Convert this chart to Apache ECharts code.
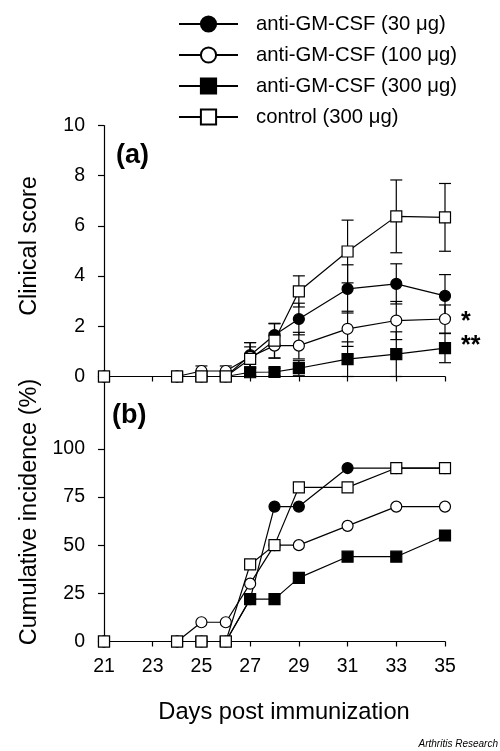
<!DOCTYPE html>
<html>
<head>
<meta charset="utf-8">
<script src="https://cdn.jsdelivr.net/npm/echarts@6/dist/echarts.min.js"></script>
<style>html,body{margin:0;padding:0;background:#fff}#c{width:500px;height:751px}</style>
</head>
<body>
<div id="c"></div>
<script>
// ---- data ----
var days = [21, 24, 25, 26, 27, 28, 29, 31, 33, 35];
var seriesNames = ['anti-GM-CSF (30 μg)', 'anti-GM-CSF (100 μg)', 'anti-GM-CSF (300 μg)', 'control (300 μg)'];
// Panel (a): clinical score (mean) and error (SEM)
var scoreGM30   = [0, 0, 0, 0, 0.85, 1.65, 2.29, 3.49, 3.69, 3.21];
var errGM30     = [0, 0, 0, 0, 0.50, 0.45, 0.63, 0.96, 0.80, 0.85];
var scoreGM100  = [0, 0, 0.22, 0.22, 0.78, 1.23, 1.23, 1.90, 2.23, 2.29];
var errGM100    = [0, 0, 0.20, 0.20, 0.40, 0.50, 0.53, 0.70, 0.76, 0.56];
var scoreGM300  = [0, 0, 0, 0, 0.17, 0.18, 0.33, 0.69, 0.89, 1.13];
var errGM300    = [0, 0, 0, 0, 0.15, 0.15, 0.30, 0.69, 0.89, 0.58];
var scoreCtrl   = [0, 0, 0, 0, 0.70, 1.43, 3.39, 4.98, 6.38, 6.34];
var errCtrl     = [0, 0, 0, 0, 0.65, 0.69, 0.62, 1.25, 1.45, 1.35];
// Panel (b): cumulative incidence (%)
var incGM30  = [0, 0, 0, 0, 22, 70, 70, 90, 90, 90];
var incGM100 = [0, 0, 10, 10, 30, 50, 50, 60, 70, 70];
var incGM300 = [0, 0, 0, 0, 22, 22, 33, 44, 44, 55];
var incCtrl  = [0, 0, 0, 0, 40, 50, 80, 80, 90, 90];
// ticks
var xTicks = [21, 23, 25, 27, 29, 31, 33, 35];
var yTicksA = [0, 2, 4, 6, 8, 10];
var yTicksB = [0, 25, 50, 75, 100];

// ---- styles ----
var FONT = 'Liberation Sans, Arial, sans-serif';
var styles = [
  {symbol: 'circle', fill: '#000'},
  {symbol: 'circle', fill: '#fff'},
  {symbol: 'rect', fill: '#000'},
  {symbol: 'rect', fill: '#fff'}
];
function pairs(ys) { return days.map(function (d, i) { return [d, ys[i]]; }); }
function triples(ys, es) { return days.map(function (d, i) { return [d, ys[i], es[i]]; }); }

var scoresA = [scoreGM30, scoreGM100, scoreGM300, scoreCtrl];
var errsA = [errGM30, errGM100, errGM300, errCtrl];
var incB = [incGM30, incGM100, incGM300, incCtrl];

var series = [];
// error bars for panel (a)
series.push({
  type: 'custom', xAxisIndex: 0, yAxisIndex: 0, z: 1, clip: false, silent: true,
  data: [].concat.apply([], scoresA.map(function (s, k) { return triples(s, errsA[k]); })),
  encode: {x: 0, y: 1},
  renderItem: function (params, api) {
    var x = api.value(0), y = api.value(1), e = api.value(2);
    if (!e) return null;
    var top = api.coord([x, y + e]);
    var bot = api.coord([x, y - e]);
    var hw = 6;
    var st = {stroke: '#000', lineWidth: 1.2, fill: null};
    return {type: 'group', children: [
      {type: 'line', shape: {x1: top[0], y1: top[1], x2: bot[0], y2: bot[1]}, style: st},
      {type: 'line', shape: {x1: top[0] - hw, y1: top[1], x2: top[0] + hw, y2: top[1]}, style: st},
      {type: 'line', shape: {x1: bot[0] - hw, y1: bot[1], x2: bot[0] + hw, y2: bot[1]}, style: st}
    ]};
  }
});
for (var k = 0; k < 4; k++) {
  var base = {
    name: seriesNames[k], type: 'line', symbol: styles[k].symbol, symbolSize: 11,
    showAllSymbol: true, clip: false, z: 3 + k,
    lineStyle: {color: '#000', width: 1.2},
    itemStyle: {color: styles[k].fill, borderColor: '#000', borderWidth: 1.2, opacity: 1},
    emphasis: {disabled: true}, animation: false
  };
  series.push(Object.assign({}, base, {xAxisIndex: 0, yAxisIndex: 0, data: pairs(scoresA[k])}));
  series.push(Object.assign({}, base, {xAxisIndex: 1, yAxisIndex: 1, data: pairs(incB[k])}));
}

var axisLine = {show: true, lineStyle: {color: '#000', width: 1.2}};
var tickFont = 19.5;
var option = {
  backgroundColor: '#fff',
  animation: false,
  textStyle: {fontFamily: FONT},
  legend: {
    data: seriesNames, orient: 'vertical', left: 173, top: 9,
    itemWidth: 59, itemHeight: 19, itemGap: 11,
    textStyle: {fontFamily: FONT, fontSize: 20.3, color: '#000', padding: [0, 0, 0, 13]},
    selectedMode: false
  },
  grid: [
    {left: 104, width: 341, top: 125.5, height: 251},
    {left: 104, width: 341, top: 376.5, height: 265}
  ],
  xAxis: [
    {gridIndex: 0, type: 'value', min: 21, max: 35,
     axisLine: axisLine, splitLine: {show: false},
     axisTick: {show: true, length: 5, lineStyle: {color: '#000', width: 1.2}, customValues: xTicks},
     axisLabel: {show: false, customValues: xTicks}},
    {gridIndex: 1, type: 'value', min: 21, max: 35,
     axisLine: axisLine, splitLine: {show: false},
     axisTick: {show: true, length: 5, lineStyle: {color: '#000', width: 1.2}, customValues: xTicks},
     axisLabel: {show: true, customValues: xTicks, margin: 15, fontSize: tickFont, color: '#000', fontFamily: FONT}}
  ],
  yAxis: [
    {gridIndex: 0, type: 'value', min: 0, max: 10, interval: 2,
     axisLine: axisLine, splitLine: {show: false},
     axisTick: {show: true, length: 6, lineStyle: {color: '#000', width: 1.2}},
     axisLabel: {margin: 19, fontSize: tickFont, color: '#000', fontFamily: FONT}},
    {gridIndex: 1, type: 'value', min: 0, max: 137.5,
     axisLine: axisLine, splitLine: {show: false},
     axisTick: {show: true, length: 6, lineStyle: {color: '#000', width: 1.2}, customValues: yTicksB},
     axisLabel: {margin: 19, fontSize: tickFont, color: '#000', fontFamily: FONT, customValues: yTicksB}}
  ],
  graphic: [
    {type: 'text', x: 30, y: 246, rotation: Math.PI / 2, style: {text: 'Clinical score', font: '23.5px ' + FONT, fill: '#000', align: 'center', verticalAlign: 'middle'}},
    {type: 'text', x: 30, y: 512, rotation: Math.PI / 2, style: {text: 'Cumulative incidence (%)', font: '23.5px ' + FONT, fill: '#000', align: 'center', verticalAlign: 'middle'}},
    {type: 'text', x: 284, y: 712, style: {text: 'Days post immunization', font: '23.7px ' + FONT, fill: '#000', align: 'center', verticalAlign: 'middle'}},
    {type: 'text', x: 116, y: 156, style: {text: '(a)', font: 'bold 27px ' + FONT, fill: '#000', align: 'left', verticalAlign: 'middle'}},
    {type: 'text', x: 112, y: 416, style: {text: '(b)', font: 'bold 27px ' + FONT, fill: '#000', align: 'left', verticalAlign: 'middle'}},
    {type: 'text', x: 461, y: 322, style: {text: '*', font: 'bold 25px ' + FONT, fill: '#000', align: 'left', verticalAlign: 'middle'}},
    {type: 'text', x: 461, y: 346, style: {text: '**', font: 'bold 25px ' + FONT, fill: '#000', align: 'left', verticalAlign: 'middle'}},
    {type: 'text', x: 498, y: 744, style: {text: 'Arthritis Research', font: 'italic 10px ' + FONT, fill: '#000', align: 'right', verticalAlign: 'middle'}}
  ],
  series: series
};
var chart = echarts.init(document.getElementById('c'), null, {renderer: 'canvas'});
chart.setOption(option);
</script>
</body>
</html>
